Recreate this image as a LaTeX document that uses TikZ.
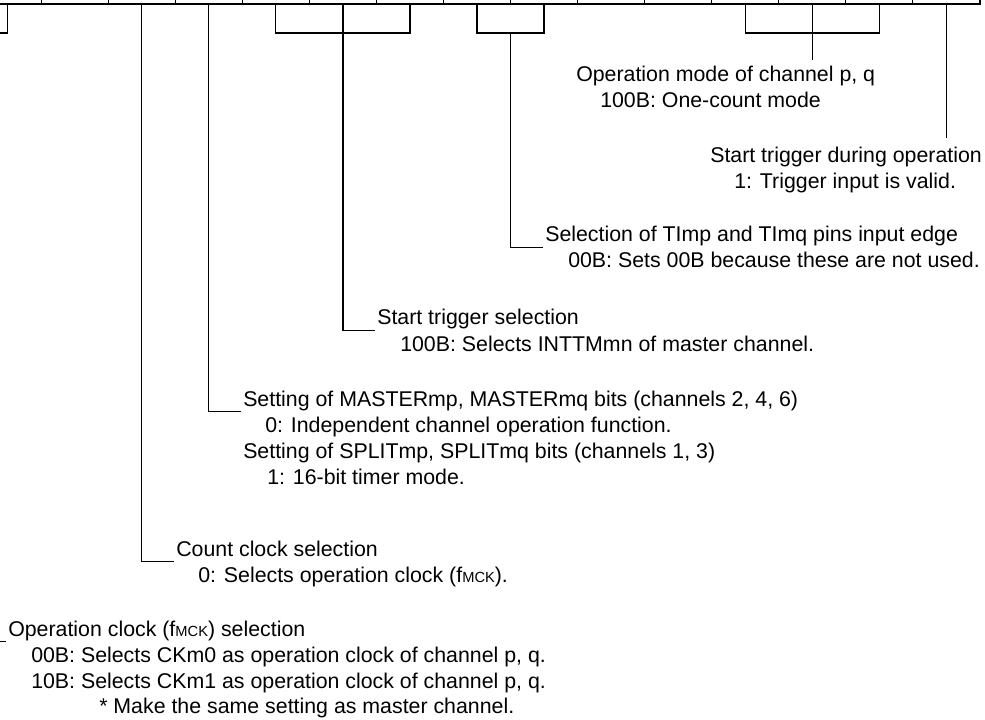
\documentclass[tikz,border=0pt]{standalone}
\usepackage{fontspec}
\setmainfont{Liberation Sans}
\newcommand{\fmck}{f{\fontsize{11}{11}\selectfont MCK}}

\begin{document}
\begin{tikzpicture}[x=0.75pt,y=-0.75pt,
  lead/.style={line width=1pt},
  head/.style={anchor=base west,inner xsep=1.5pt,inner ysep=0pt,text depth=3.75pt,font=\fontsize{16}{19}\selectfont}]
  \useasboundingbox (0,0) rectangle (985,720);
  \clip (0,0) rectangle (985,720);
  \foreach \i in {0,...,15} \coordinate (b\i) at ({980-67.07*(\i+0.5)},4);
  \foreach \i in {1,...,14} \draw[line width=0.75pt] ({980-67.07*\i},-5) -- ({980-67.07*\i},4);
  \draw[line width=1.5pt] (-30,4) -- (980,4) -- (980,-5);

  \node[head] (opmode) at (574,82) {Operation mode of channel p, q};
  \node[head] (opmode-d) at (598,108) {100B: One-count mode};
  \node[head] (trig) at (708,163) {Start trigger during operation};
  \node[head] (trig-d) at (732,189) {1: Trigger input is valid.};
  \node[head] (cis) at (543,242) {Selection of TImp and TImq pins input edge};
  \node[head] (cis-d) at (566,268) {00B: Sets 00B because these are not used.};
  \node[head] (sts) at (375,325) {Start trigger selection};
  \node[head] (sts-d) at (398,351) {100B: Selects INTTMmn of master channel.};
  \node[head] (master) at (241,406) {Setting of MASTERmp, MASTERmq bits (channels 2, 4, 6)};
  \node[head] (master-d) at (263,432) {0: Independent channel operation function.};
  \node[head] (split) at (241,458) {Setting of SPLITmp, SPLITmq bits (channels 1, 3)};
  \node[head] (split-d) at (265,484) {1: 16-bit timer mode.};
  \node[head] (ccs) at (174,556) {Count clock selection};
  \node[head] (ccs-d) at (196,582) {0: Selects operation clock (\fmck).};
  \node[head] (opclk) at (6,636) {Operation clock (\fmck) selection};
  \node[head] (opclk-d0) at (29,662) {00B: Selects CKm0 as operation clock of channel p, q.};
  \node[head] (opclk-d1) at (29,688) {10B: Selects CKm1 as operation clock of channel p, q.};
  \node[head] (opclk-n) at (97,713) {* Make the same setting as master channel.};

  \draw[lead,shorten >=7pt] (b0) -- (b0 |- trig.north);
  \draw[lead] (b3) -- ++(0,29) -| (b1);
  \draw[lead,shorten >=4.7pt] (b2) -- (b2 |- opmode.north);
  \draw[lead] (b7) -- ++(0,29) -| (b6);
  \path (b7) -- (b6) coordinate[midway] (b67);
  \draw[lead] (b67) ++(0,29) |- (cis.south west);
  \draw[lead] (b10) -- ++(0,29) -| (b8);
  \draw[lead] (b9) |- (sts.south west);
  \draw[lead] (b11) |- (master.south west);
  \draw[lead] (b12) |- (ccs.south west);
  \draw[lead] (b15) -- ++(0,29) -| (b14);
  \path (b15) -- (b14) coordinate[midway] (b1415);
  \draw[lead] (b1415) ++(0,29) |- (opclk.south west);
\end{tikzpicture}
\end{document}
